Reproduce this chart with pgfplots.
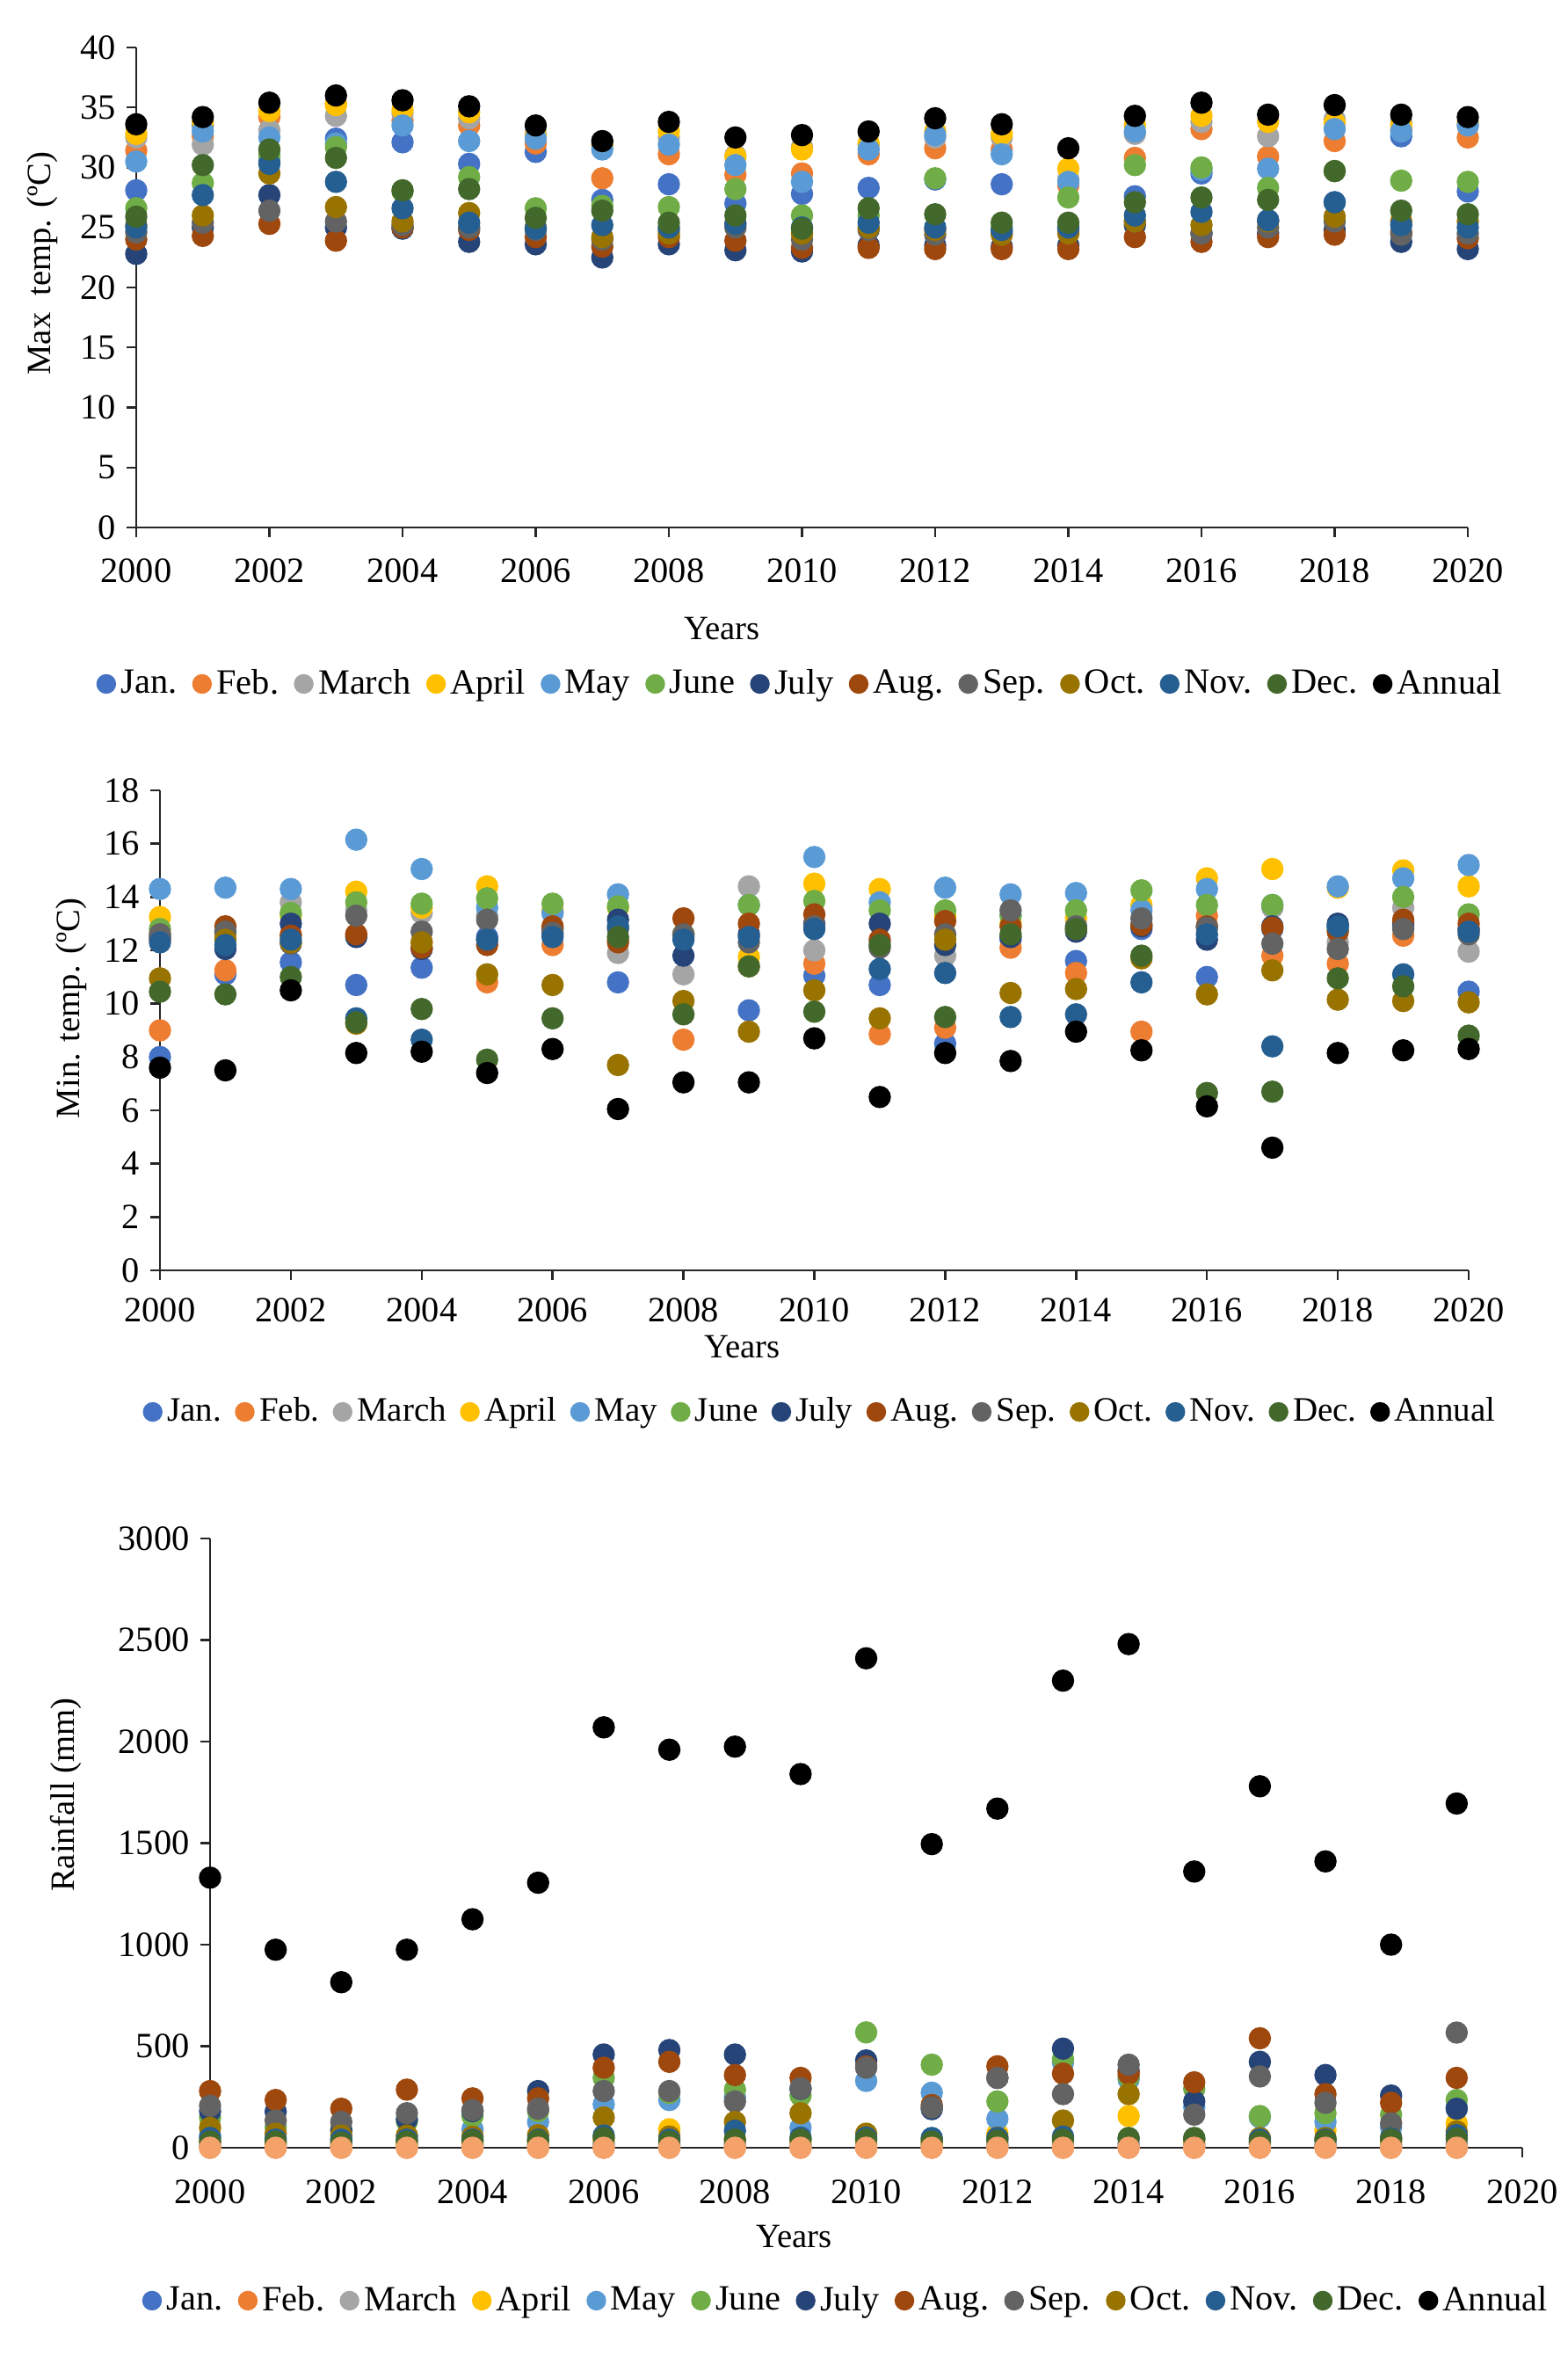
\documentclass[border=0pt]{standalone}
\usepackage{fontspec}
\setmainfont{Liberation Serif}
\usepackage{pgfplots}
\usepackage{pgfplotstable}
\pgfplotsset{compat=1.18}
\definecolor{cJan}{HTML}{4472C4}
\definecolor{cFeb}{HTML}{ED7D31}
\definecolor{cFebL}{HTML}{F4A16A}
\definecolor{cMar}{HTML}{A5A5A5}
\definecolor{cApr}{HTML}{FFC000}
\definecolor{cMay}{HTML}{5B9BD5}
\definecolor{cJun}{HTML}{70AD47}
\definecolor{cJul}{HTML}{264478}
\definecolor{cAug}{HTML}{9E480E}
\definecolor{cSep}{HTML}{636363}
\definecolor{cOct}{HTML}{997300}
\definecolor{cNov}{HTML}{255E91}
\definecolor{cDec}{HTML}{43682B}
\definecolor{cAnn}{HTML}{000000}
\newcommand\FT{\fontsize{11.5}{13.8}\selectfont}
\newcommand\FL{\fontsize{11}{13.2}\selectfont}
\newcommand\FG{\fontsize{11.5}{13.8}\selectfont}
\newcommand\FGs{\fontsize{11.1}{13.3}\selectfont}

\pgfplotstableread{
Y Jan Feb Mar Apr May Jun Jul Aug Sep Oct Nov Dec Ann
2000 28.1 31.4 32.5 32.8 30.5 26.6 22.8 24.0 24.6 25.2 25.0 25.9 33.6
2001 33.5 32.6 31.9 33.8 33.0 28.7 25.0 24.3 25.4 26.0 27.7 30.2 34.2
2002 30.5 34.2 33.1 34.7 32.5 31.0 27.7 25.3 26.4 29.5 30.3 31.5 35.4
2003 32.4 35.3 34.3 35.2 32.0 31.7 25.0 23.9 25.5 26.7 28.8 30.8 36.0
2004 32.1 33.9 34.5 34.8 33.5 28.0 24.9 25.0 25.2 25.5 26.6 28.1 35.6
2005 30.3 33.5 34.1 34.6 32.2 29.2 23.8 24.8 25.0 26.2 25.4 28.2 35.1
2006 31.3 32.0 32.8 32.6 32.4 26.6 23.6 24.2 24.8 25.0 24.9 25.8 33.5
2007 27.3 29.1 31.8 31.9 31.5 26.8 22.5 23.4 24.0 24.2 25.2 26.4 32.2
2008 28.6 31.1 32.5 33.0 31.9 26.7 23.6 24.2 24.8 24.5 25.0 25.4 33.8
2009 27.0 29.4 31.0 30.9 30.2 28.2 23.1 23.9 25.0 25.3 25.3 26.0 32.5
2010 27.8 29.5 31.7 31.5 28.8 26.0 23.0 23.3 24.0 24.5 25.0 24.9 32.7
2011 28.3 31.1 31.9 32.0 31.5 26.0 23.5 23.3 24.8 25.0 25.4 26.6 33.0
2012 29.0 31.6 32.5 33.0 32.7 29.1 23.5 23.2 24.4 24.8 25.0 26.1 34.1
2013 28.6 31.5 32.5 32.8 31.1 25.0 23.4 23.2 24.6 24.4 24.8 25.4 33.6
2014 25.0 28.5 29.0 29.9 28.8 27.5 23.5 23.2 24.7 24.5 25.0 25.4 31.6
2015 27.6 30.8 32.8 33.5 33.0 30.2 25.2 24.2 25.5 25.5 26.0 27.1 34.3
2016 29.5 33.2 33.8 34.3 29.8 30.0 24.5 23.8 24.5 25.2 26.3 27.5 35.4
2017 25.6 30.9 32.6 33.8 29.9 28.3 24.5 24.2 25.0 25.5 25.6 27.3 34.4
2018 27.1 32.2 34.0 33.7 33.2 29.7 24.8 24.4 25.5 25.9 27.1 29.7 35.2
2019 32.6 33.2 33.8 33.5 33.0 28.9 23.8 24.6 24.4 25.5 25.2 26.4 34.4
2020 28.0 32.5 33.5 33.8 33.5 28.8 23.2 24.1 24.5 25.5 25.0 26.1 34.2
}\maxT

\pgfplotstableread{
Y Jan Feb Mar Apr May Jun Jul Aug Sep Oct Nov Dec Ann
2000 8.0 9.0 12.6 13.25 14.3 12.8 12.5 12.4 12.6 10.95 12.3 10.45 7.6
2001 11.1 11.25 12.5 12.6 14.35 12.7 12.05 12.9 12.7 12.4 12.2 10.35 7.5
2002 11.55 12.6 13.8 13.3 14.3 13.4 13.0 12.55 12.25 12.3 12.4 11.0 10.5
2003 10.7 12.6 13.5 14.2 16.15 13.8 12.5 12.6 13.3 9.25 9.45 9.3 8.15
2004 11.35 12.3 13.4 13.6 15.05 13.75 12.05 12.1 12.7 12.3 8.65 9.8 8.2
2005 12.5 10.8 13.3 14.4 13.6 13.95 12.4 12.2 13.15 11.1 12.4 7.9 7.4
2006 12.6 12.2 13.4 13.5 13.4 13.75 12.8 12.9 12.65 10.7 12.5 9.45 8.3
2007 10.8 12.4 11.9 13.6 14.1 13.65 13.15 12.3 12.8 7.7 12.9 12.5 6.05
2008 12.5 8.65 11.1 12.6 12.6 12.6 11.8 13.2 12.6 10.1 12.4 9.6 7.05
2009 9.75 11.4 14.4 11.75 13.7 13.7 12.6 13.0 12.3 8.95 12.5 11.4 7.05
2010 11.05 11.5 12.0 14.5 15.5 13.85 13.0 13.35 12.9 10.5 12.8 9.7 8.7
2011 10.7 8.85 12.3 14.3 13.8 13.5 13.0 12.4 12.1 9.45 11.3 12.2 6.5
2012 8.5 9.1 11.8 13.3 14.35 13.5 12.2 13.1 12.6 12.4 11.15 9.5 8.15
2013 12.4 12.1 13.3 13.0 14.1 13.3 12.5 12.9 13.5 10.4 9.5 12.6 7.85
2014 11.6 11.15 12.9 13.2 14.15 13.5 12.7 12.8 12.9 10.55 9.6 12.8 8.95
2015 12.8 8.95 13.0 13.7 13.5 14.25 12.9 12.95 13.2 11.7 10.8 11.8 8.25
2016 11.0 13.3 12.9 14.7 14.3 13.7 12.4 12.9 12.85 10.35 12.6 6.65 6.15
2017 12.8 11.8 13.6 15.05 13.7 13.7 12.9 12.85 12.25 11.25 8.4 6.7 4.6
2018 12.9 11.5 12.3 14.35 14.4 12.8 13.0 12.7 12.05 10.15 12.9 10.95 8.15
2019 12.9 12.55 13.6 15.0 14.7 14.0 13.0 13.15 12.8 10.1 11.1 10.65 8.25
2020 10.45 12.8 11.95 14.4 15.2 13.35 12.8 13.0 12.6 10.05 12.7 8.8 8.3
}\minT

\pgfplotstableread{
Y Jan Feb Mar Apr May Jun Jul Aug Sep Oct Nov Dec Ann
2000 20 0 10 30 60 149 180 279 206 98 48 30 1330
2001 15 0 10 20 50 100 178 235 134 69 40 30 975
2002 10 0 8 15 40 90 84 192 127 60 40 25 815
2003 15 0 10 20 55 130 141 286 170 60 40 30 975
2004 15 0 10 25 91 156 180 243 185 55 40 35 1125
2005 15 0 10 30 127 180 279 243 192 62 40 35 1305
2006 20 0 15 40 214 344 459 394 279 149 60 48 2070
2007 15 0 10 91 235 270 481 423 279 55 40 30 1960
2008 20 0 15 40 250 286 459 358 228 127 84 40 1975
2009 15 0 10 30 98 257 290 344 293 170 50 40 1840
2010 20 0 15 40 329 568 430 400 394 69 50 40 2410
2011 15 0 10 20 271 409 190 210 199 40 48 30 1495
2012 15 0 10 69 142 228 344 401 344 50 48 35 1670
2013 20 0 15 40 420 437 488 365 264 134 55 40 2300
2014 20 0 15 156 336 350 380 365 409 264 45 48 2480
2015 15 0 10 30 200 290 228 322 163 40 45 48 1360
2016 20 0 15 30 150 156 423 539 351 48 40 30 1780
2017 15 0 10 84 127 170 358 264 221 48 40 35 1410
2018 15 0 10 30 100 163 257 221 120 50 48 40 1000
2019 20 0 10 120 200 235 192 344 567 80 62 45 1695
}\rain

\newcommand\plotall[1]{%
\addplot[mk,cJan] table[x=Y,y=Jan]{#1}; \addlegendentry{Jan.}
\addplot[mk,cFeb] table[x=Y,y=Feb]{#1}; \addlegendentry{Feb.}
\addplot[mk,cMar] table[x=Y,y=Mar]{#1}; \addlegendentry{March}
\addplot[mk,cApr] table[x=Y,y=Apr]{#1}; \addlegendentry{April}
\addplot[mk,cMay] table[x=Y,y=May]{#1}; \addlegendentry{May}
\addplot[mk,cJun] table[x=Y,y=Jun]{#1}; \addlegendentry{June}
\addplot[mk,cJul] table[x=Y,y=Jul]{#1}; \addlegendentry{July}
\addplot[mk,cAug] table[x=Y,y=Aug]{#1}; \addlegendentry{Aug.}
\addplot[mk,cSep] table[x=Y,y=Sep]{#1}; \addlegendentry{Sep.}
\addplot[mk,cOct] table[x=Y,y=Oct]{#1}; \addlegendentry{Oct.}
\addplot[mk,cNov] table[x=Y,y=Nov]{#1}; \addlegendentry{Nov.}
\addplot[mk,cDec] table[x=Y,y=Dec]{#1}; \addlegendentry{Dec.}
\addplot[mk,cAnn] table[x=Y,y=Ann]{#1}; \addlegendentry{Annual}
}

\pgfplotsset{
  mk/.style={only marks, mark=*, mark size=1.2mm},
  base/.style={
    scale only axis,
    anchor=south west,
    axis lines=left,
    axis line style={-, line width=0.7pt, black!85},
    tick style={line width=0.7pt, black!85},
    tick align=outside,
    major tick length=1.1mm,
    xmin=2000, xmax=2020,
    xtick={2000,2002,...,2020},
    clip=false,
    /pgf/number format/assume math mode=true,
    /pgf/number format/1000 sep={},
    tick label style={font=\FT, black},
    label style={font=\FL},
    legend columns=13,
    legend cell align=left,
    legend style={draw=none, fill=none, font=\FG, anchor=center,
      nodes={inner xsep=0.6mm},
      /tikz/every even column/.append style={column sep=1.2mm},
      /tikz/every odd column/.append style={column sep=0mm}},
    legend image code/.code={\draw[##1, mark size=1.05mm] plot coordinates {(0.11cm,0cm)};},
    xlabel={Years},
  },
}

\begin{document}
\begin{tikzpicture}
\path[use as bounding box] (0,0) rectangle (178.3mm,268.9mm);

\begin{axis}[base,
  at={(15.5mm,208.9mm)}, width=151.5mm, height=54.6mm,
  ymin=0, ymax=40, ytick={0,5,...,40},
  xticklabel style={yshift=-1.2mm},
  ylabel={Max\ \ temp. (ºC)},
  ylabel style={at={(axis description cs:-0.0706,0.55)}, anchor=center},
  xlabel style={at={(axis description cs:0.44,-0.21)}, anchor=center},
  legend style={at={(0.5,-0.326)}},
]
\plotall{\maxT}
\end{axis}

\begin{axis}[base,
  at={(18.2mm,124.4mm)}, width=148.9mm, height=54.6mm,
  ymin=0, ymax=18, ytick={0,2,...,18},
  xticklabel style={yshift=-0.85mm},
  ylabel={Min. temp. (ºC)},
  ylabel style={at={(axis description cs:-0.068,0.546)}, anchor=center},
  xlabel style={at={(axis description cs:0.445,-0.159)}, anchor=center},
  legend style={at={(0.506,-0.295)}, font=\FGs,
      /tikz/every even column/.append style={column sep=1.0mm}},
]
\plotall{\minT}
\end{axis}

\begin{axis}[base,
  at={(23.9mm,24.6mm)}, width=149.3mm, height=69.3mm,
  ymin=0, ymax=3000, ytick={0,500,...,3000},
  xticklabel style={yshift=-1.35mm},
  ylabel={Rainfall (mm)},
  ylabel style={at={(axis description cs:-0.11,0.579)}, anchor=center},
  xlabel style={at={(axis description cs:0.445,-0.146)}, anchor=center},
  legend style={at={(0.486,-0.251)}},
]
\plotall{\rain}
\addplot[mk,cFebL,forget plot] table[x=Y,y=Feb]{\rain};
\end{axis}
\end{tikzpicture}
\end{document}
